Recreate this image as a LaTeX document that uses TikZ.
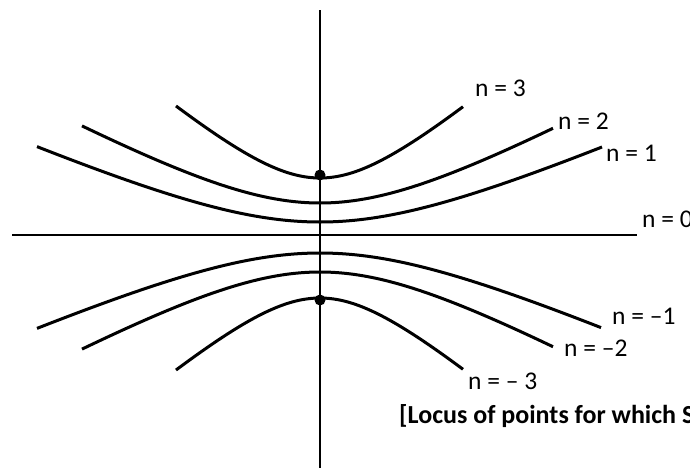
\documentclass[tikz,border=0pt]{standalone}
\usepackage{fontspec}
\setmainfont{Carlito}
\begin{document}
\begin{tikzpicture}[x=1pt,y=-1pt,
  curve/.style={line width=3pt},
  axis/.style={line width=1.7pt},
  lbl/.style={anchor=base west,inner sep=0pt,font=\fontsize{25.5}{30}\selectfont},
  captiontext/.style={anchor=base west,inner sep=0pt,font=\fontsize{26}{31}\selectfont\bfseries},
  dot/.style={circle,fill=black,inner sep=0pt,minimum size=11pt}]
\useasboundingbox (0,0) rectangle (690,469);
\begin{scope}
\clip (0,0) rectangle (690,469);
% axes
\coordinate (vtop) at (320,10);
\coordinate (vbot) at (320,468);
\coordinate (hl) at (12,235);
\coordinate (hr) at (637,235);
\draw[axis] (vtop) -- (vbot);
\draw[axis] (hl) -- (hr);
% upper curves
\draw[curve] plot[domain=-144:143,samples=90,smooth] ({320+\x},{178-68*(sqrt(1+(\x/80)*(\x/80))-1)});
\draw[curve] plot[domain=-238:233,samples=90,smooth] ({320+\x},{203-71*(sqrt(1+(\x/130)*(\x/130))-1)});
\draw[curve] plot[domain=-283:282,samples=90,smooth] ({320+\x},{222-66.4*(sqrt(1+(\x/150)*(\x/150))-1)});
% lower curves
\draw[curve] plot[domain=-283:281,samples=90,smooth] ({320+\x},{253+66.4*(sqrt(1+(\x/150)*(\x/150))-1)});
\draw[curve] plot[domain=-238:233,samples=90,smooth] ({320+\x},{272+71*(sqrt(1+(\x/130)*(\x/130))-1)});
\draw[curve] plot[domain=-144:143,samples=90,smooth] ({320+\x},{298+68*(sqrt(1+(\x/80)*(\x/80))-1)});
% dots
\node[dot] (d1) at (320,175) {};
\node[dot] (d2) at (320,300) {};
% labels
\node[lbl] (n3) at (475,96) {n = 3};
\node[lbl] (n2) at (558,129) {n = 2};
\node[lbl] (n1) at (606,161) {n = 1};
\node[lbl] (n0) at (642,227) {n = 0};
\node[lbl] (m1) at (612,324) {n = –1};
\node[lbl] (m2) at (564,356) {n = –2};
\node[lbl] (m3) at (468,389) {n = – 3};
\node[captiontext] (locus) at (399,423) {[Locus of points for which S};
\end{scope}
\end{tikzpicture}
\end{document}
